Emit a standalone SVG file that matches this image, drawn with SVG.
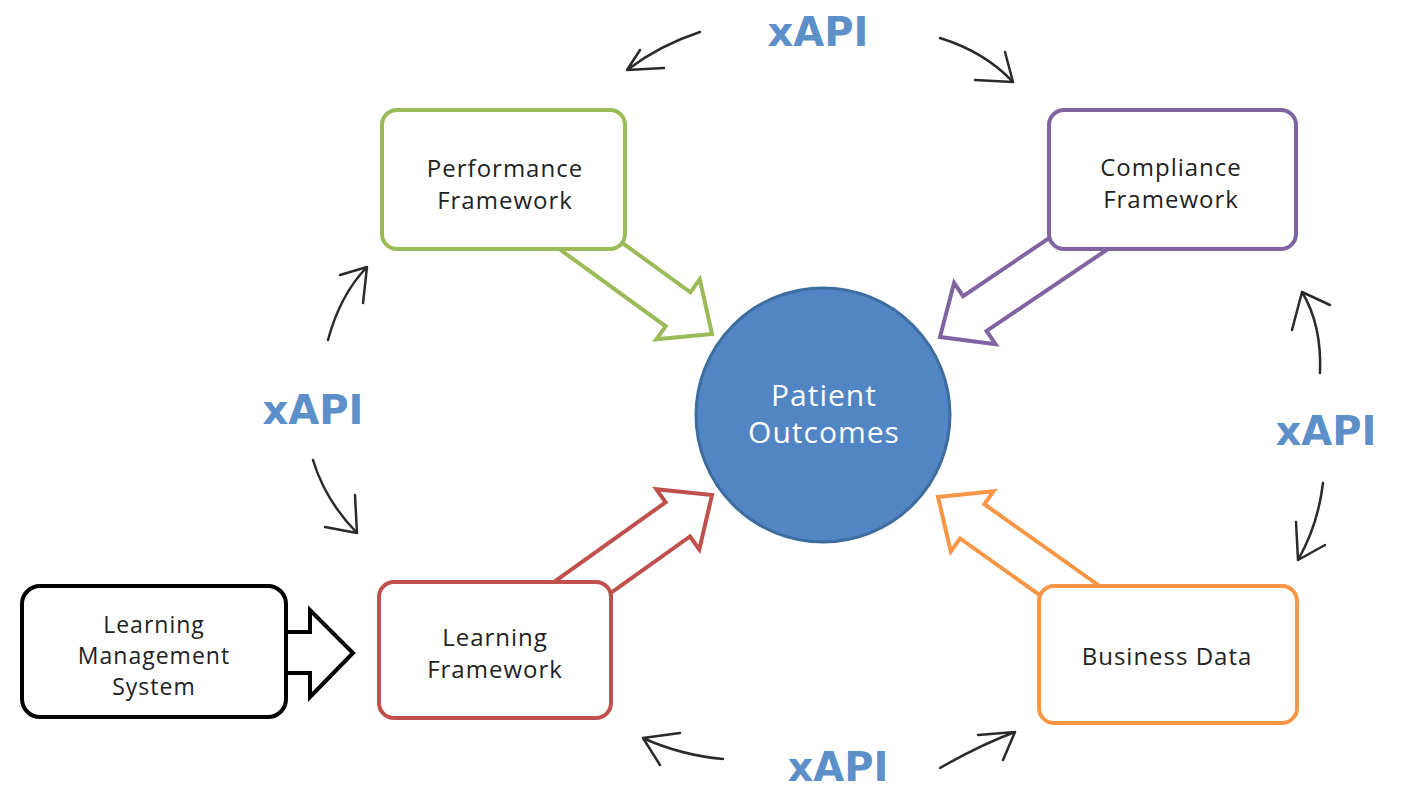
<svg xmlns="http://www.w3.org/2000/svg" width="1404" height="790" viewBox="0 0 1404 790">
<style>
.box{fill:#fff;stroke-width:4}
.blk{fill:#fff;stroke-width:4;stroke-linejoin:miter}
.hand{fill:none;stroke:#2a2a2a;stroke-width:2.5;stroke-linecap:round;stroke-linejoin:round}
.lbl{font-family:"Open Sans","Liberation Sans",sans-serif;font-size:24px;letter-spacing:1px;fill:#222;text-anchor:middle}
.xapi{font-family:"DejaVu Sans","Liberation Sans",sans-serif;font-weight:bold;font-size:40px;fill:#5d8fc9;text-anchor:middle}
</style>
<defs>
<path id="blockArrow" d="M-200,-21 L-42,-21 L-42,-37 L0,0 L-42,37 L-42,21 L-200,21 Z"/>
</defs>
<rect width="1404" height="790" fill="#fff"/>
<g id="connectors">
<use href="#blockArrow" class="blk" stroke="#9bbb59" transform="translate(712,334) rotate(36)"/>
<use href="#blockArrow" class="blk" stroke="#8064a2" transform="translate(940,337) rotate(146)"/>
<use href="#blockArrow" class="blk" stroke="#c0504d" transform="translate(712,495) rotate(-35.5)"/>
<use href="#blockArrow" class="blk" stroke="#f79646" transform="translate(938,497) rotate(215.4)"/>
<polygon class="blk" stroke="#000" points="280,632 310,632 310,610 353,653 310,697 310,673 280,673"/>
<path class="hand" d="M700,32 Q660,45 627,70 M627,70 L664,68 M627,70 L640,50"/>
<path class="hand" d="M940,38 Q985,52 1013,82 M1013,82 L975,80 M1013,82 L1005,52"/>
<path class="hand" d="M328,340 Q340,295 367,267 M367,267 L340,275 M367,267 L363,303"/>
<path class="hand" d="M313,460 Q325,500 357,533 M357,533 L325,527 M357,533 L355,495"/>
<path class="hand" d="M1320,373 Q1322,325 1302,292 M1302,292 L1292,330 M1302,292 L1330,305"/>
<path class="hand" d="M1323,483 Q1318,525 1298,560 M1298,560 L1296,522 M1298,560 L1325,545"/>
<path class="hand" d="M723,759 Q680,755 643,738 M643,738 L680,733 M643,738 L660,765"/>
<path class="hand" d="M940,768 Q980,745 1015,732 M1015,732 L978,735 M1015,732 L1003,760"/>
<text class="xapi" x="818" y="46">xAPI</text>
<text class="xapi" x="313" y="424">xAPI</text>
<text class="xapi" x="1326" y="445">xAPI</text>
<text class="xapi" x="838" y="781">xAPI</text>
</g>
<g id="performance">
<rect class="box" x="382" y="110" width="243" height="139" rx="15" stroke="#9bbb59"/>
<text class="lbl" x="505" y="177">Performance</text>
<text class="lbl" x="505" y="209">Framework</text>
</g>
<g id="compliance">
<rect class="box" x="1049" y="110" width="247" height="139" rx="15" stroke="#8064a2"/>
<text class="lbl" x="1171" y="176">Compliance</text>
<text class="lbl" x="1171" y="208">Framework</text>
</g>
<g id="learning">
<rect class="box" x="379" y="582" width="232" height="136" rx="15" stroke="#c0504d"/>
<text class="lbl" x="495" y="646">Learning</text>
<text class="lbl" x="495" y="678">Framework</text>
</g>
<g id="business">
<rect class="box" x="1039" y="586" width="258" height="137" rx="15" stroke="#f79646"/>
<text class="lbl" x="1167" y="665">Business Data</text>
</g>
<g id="lms">
<rect class="box" x="22" y="586" width="264" height="131" rx="18" stroke="#000"/>
<text class="lbl" style="font-size:23px" x="154" y="633">Learning</text>
<text class="lbl" style="font-size:23px" x="154" y="664">Management</text>
<text class="lbl" style="font-size:23px" x="154" y="695">System</text>
</g>
<g id="patient">
<circle cx="823" cy="415" r="127" fill="#5185c3" stroke="#3d6c9f" stroke-width="3"/>
<text class="lbl" style="font-size:30px;fill:#fff" x="824" y="406">Patient</text>
<text class="lbl" style="font-size:30px;fill:#fff" x="824" y="443">Outcomes</text>
</g>
</svg>
